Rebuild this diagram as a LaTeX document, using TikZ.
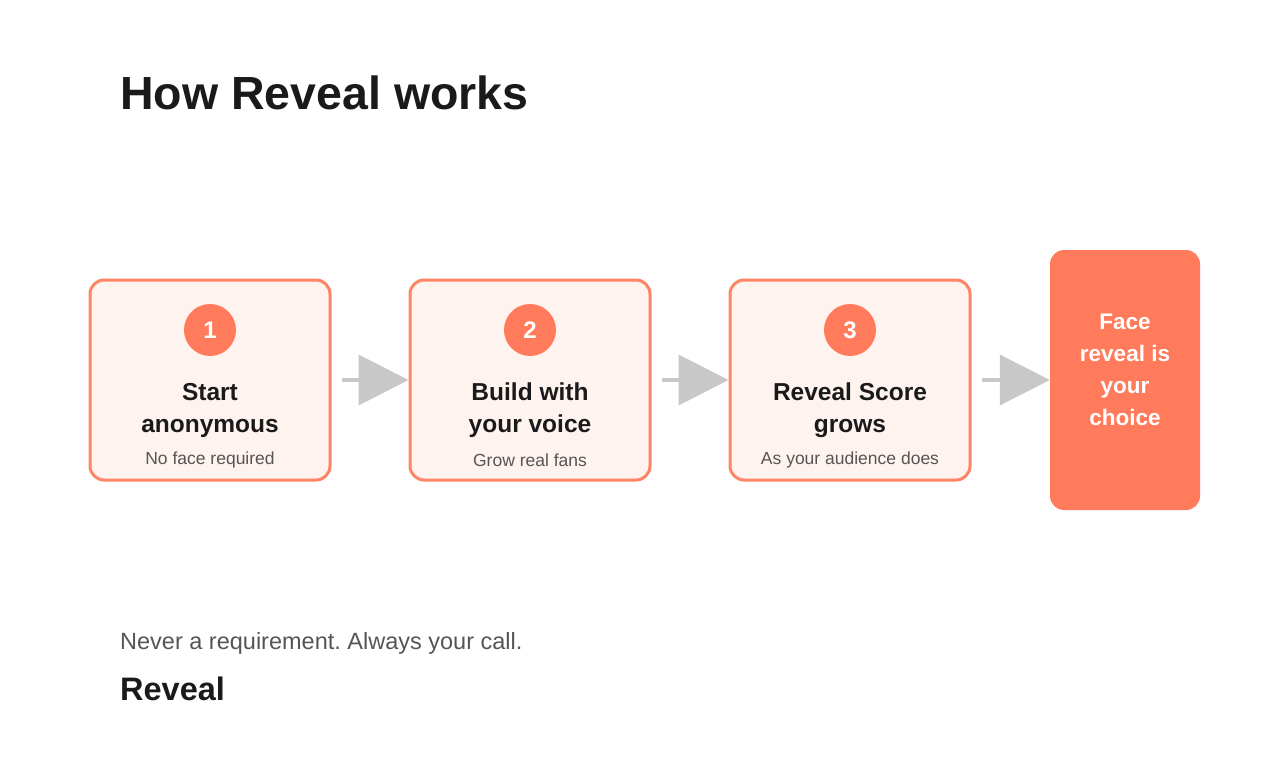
\documentclass[tikz,border=0pt]{standalone}
\usepackage{fontspec}
\setmainfont{Liberation Sans}
\usetikzlibrary{arrows.meta, positioning}
\definecolor{coral}{HTML}{FF7B5C}
\definecolor{coralline}{HTML}{FF8466}
\definecolor{blush}{HTML}{FFF3EF}
\definecolor{ink}{HTML}{1A1A1A}
\definecolor{slate}{HTML}{555555}
\definecolor{flow}{HTML}{C8C8C8}
\frenchspacing

\begin{document}
\begin{tikzpicture}[x=1pt,y=-1pt,
  stage/.style={draw=coralline, line width=3pt, fill=blush, rounded corners=14pt,
    minimum width=240pt, minimum height=200pt, inner sep=0pt},
  badge/.style={circle, fill=coral, minimum size=52pt, inner sep=0pt,
    text=white, font=\fontsize{24}{24}\selectfont\bfseries},
  caption/.style={align=center, text=ink, font=\fontsize{24.5}{32}\selectfont\bfseries},
  hint/.style={text=slate, font=\fontsize{17.5}{20}\selectfont},
  goal/.style={fill=coral, rounded corners=14pt, minimum width=150pt, minimum height=260pt,
    align=center, text=white, font=\fontsize{22.5}{32}\selectfont\bfseries},
  flowarrow/.style={draw=flow, line width=4pt, shorten <=10pt,
    -{Triangle[length=50pt,width=50pt]}}]
\useasboundingbox (0,0) rectangle (1270,760);

%Titel
\node (title) [anchor=base west, inner sep=0pt, text=ink, font=\fontsize{46.5}{46}\selectfont\bfseries]
  at (120,110) {How Reveal works};

%Schritte
\node (s1) [stage] at (210,380) {};
\node (s2) [stage] at (530,380) {};
\node (s3) [stage] at (850,380) {};
\node (s4) [goal] at (1125,380) {};
\node (g4) [goal, fill=none, minimum height=0pt] at (1125,370) {Face\\reveal is\\your\\choice};

\node (b1) [badge] at (210,330) {1};
\node (b2) [badge] at (530,330) {2};
\node (b3) [badge] at (850,330) {3};

\node (c1) [caption] at (210,410) {Start\\anonymous};
\node (c2) [caption] at (530,410) {Build with\\your voice};
\node (c3) [caption] at (850,410) {Reveal Score\\grows};

\node (h1) [hint] at (210,460) {No face required};
\node (h2) [hint] at (530,460) {Grow real fans};
\node (h3) [hint] at (850,460) {As your audience does};

%Pfeile
\draw[flowarrow] (s1.east) -- (s2.west);
\draw[flowarrow] (s2.east) -- (s3.west);
\draw[flowarrow] (s3.east) -- (s4.west);

%Fusszeile
\node (note) [anchor=base west, inner sep=0pt, text=slate, font=\fontsize{23.5}{23}\selectfont]
  at (120,649) {Never a requirement. Always your call.};
\node (brand) [anchor=base west, inner sep=0pt, text=ink, font=\fontsize{32.5}{32}\selectfont\bfseries]
  at (120,700) {Reveal};
\end{tikzpicture}
\end{document}
